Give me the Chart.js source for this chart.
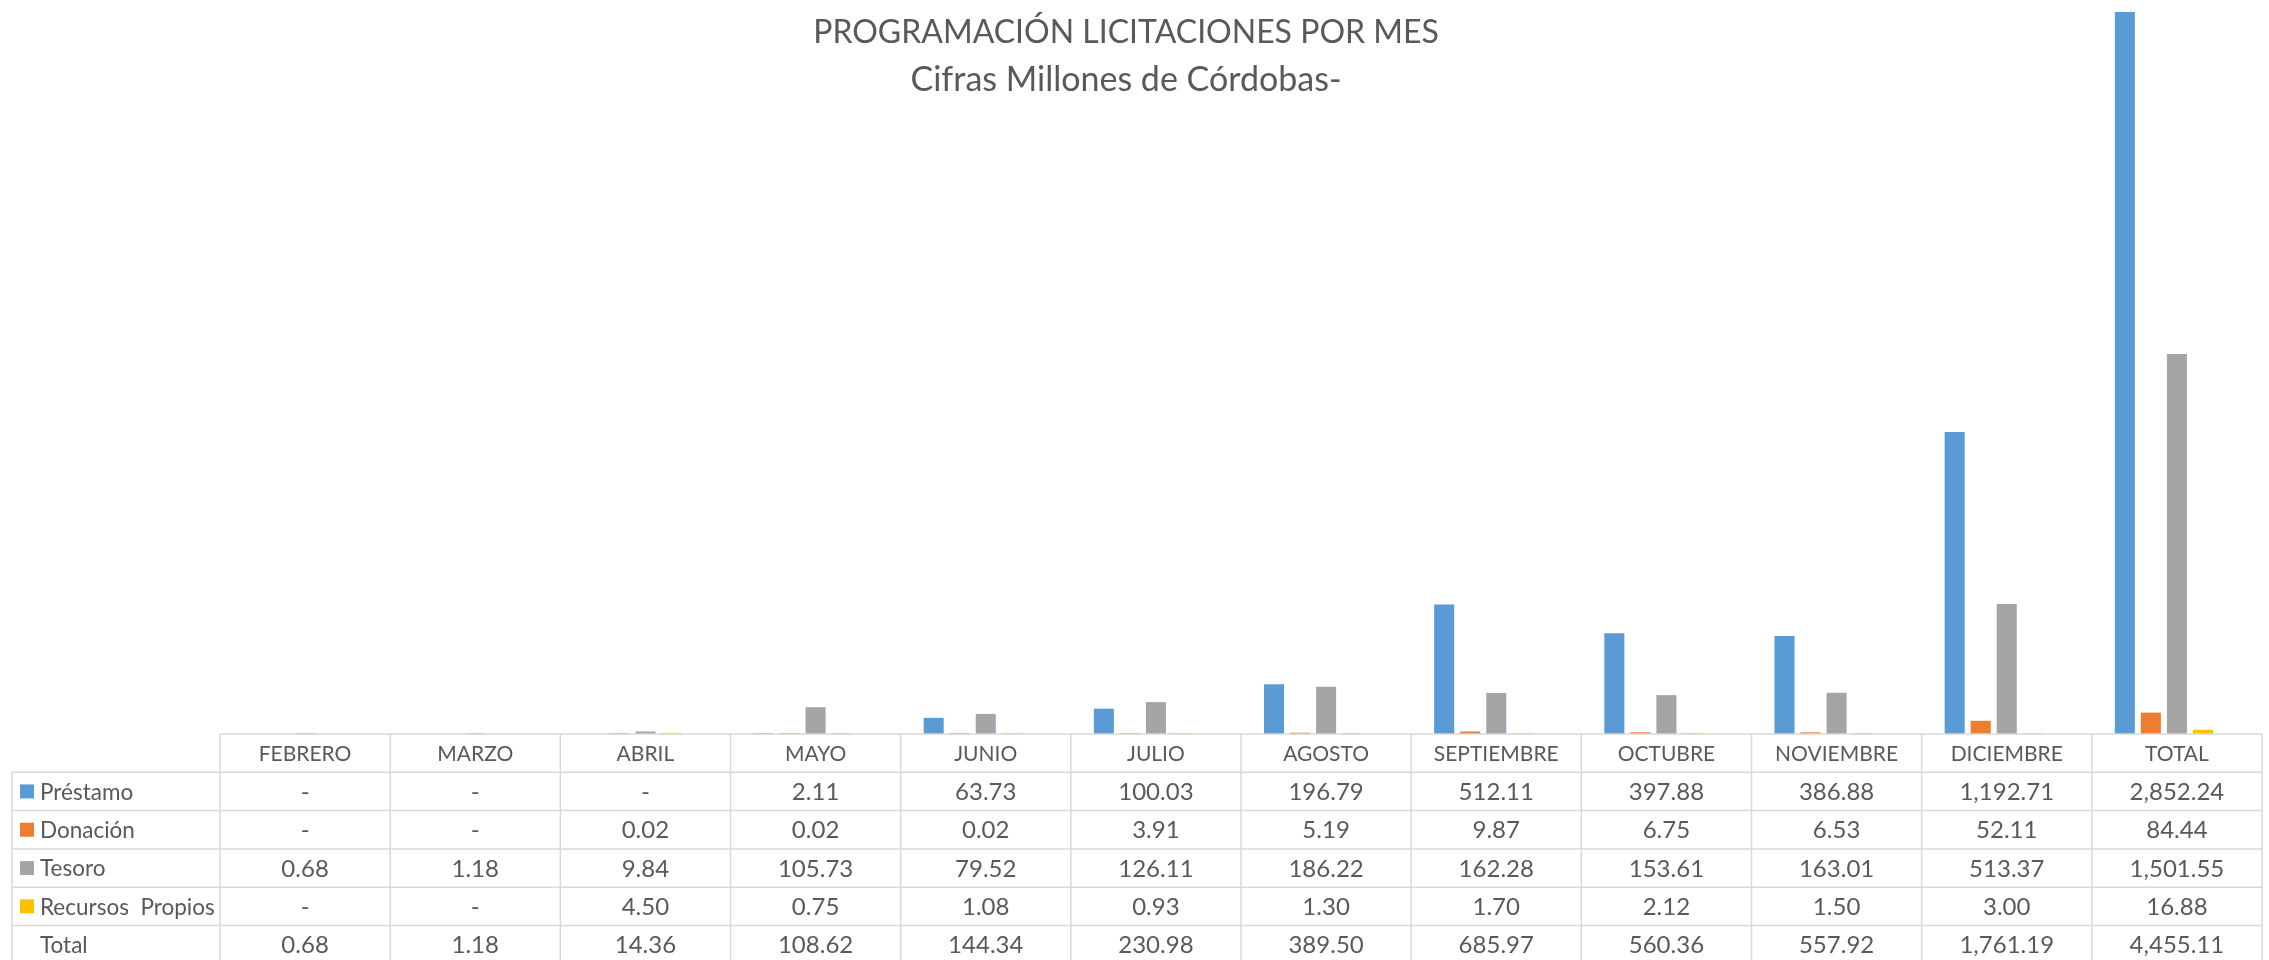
<!DOCTYPE html>
<html lang="es">
<head>
<meta charset="utf-8">
<title>Programación licitaciones por mes</title>
<script src="https://cdn.jsdelivr.net/npm/chart.js@4"></script>
<style>
    body { margin: 0; background: #ffffff; }
    canvas { display: block; }
</style>
</head>
<body>
<canvas id="grafico" width="2269" height="960"></canvas>
<script>
// Datos
const meses = ['FEBRERO', 'MARZO', 'ABRIL', 'MAYO', 'JUNIO', 'JULIO', 'AGOSTO', 'SEPTIEMBRE', 'OCTUBRE', 'NOVIEMBRE', 'DICIEMBRE', 'TOTAL'];
const prestamo = [null, null, null, 2.11, 63.73, 100.03, 196.79, 512.11, 397.88, 386.88, 1192.71, 2852.24];
const donacion = [null, null, 0.02, 0.02, 0.02, 3.91, 5.19, 9.87, 6.75, 6.53, 52.11, 84.44];
const tesoro = [0.68, 1.18, 9.84, 105.73, 79.52, 126.11, 186.22, 162.28, 153.61, 163.01, 513.37, 1501.55];
const recursosPropios = [null, null, 4.50, 0.75, 1.08, 0.93, 1.30, 1.70, 2.12, 1.50, 3.00, 16.88];
const total = [0.68, 1.18, 14.36, 108.62, 144.34, 230.98, 389.50, 685.97, 560.36, 557.92, 1761.19, 4455.11];

const titulo = 'PROGRAMACIÓN LICITACIONES POR MES';
const subtitulo = 'Cifras Millones de Córdobas-';

const colorTexto = '#595959';
const colorLinea = '#d9d9d9';
const fuente = 'Lato, "Open Sans", sans-serif';

function formato(v) {
    if (v === null) return '-';
    return v.toLocaleString('en-US', { minimumFractionDigits: 2, maximumFractionDigits: 2 });
}

// Fondo blanco
const fondo = {
    id: 'fondo',
    beforeDraw(chart) {
        const ctx = chart.ctx;
        ctx.save();
        ctx.fillStyle = '#ffffff';
        ctx.fillRect(0, 0, chart.width, chart.height);
        ctx.restore();
    }
};

// Título y tabla de datos debajo del gráfico
const tablaDatos = {
    id: 'tablaDatos',
    afterDraw(chart) {
        const ctx = chart.ctx;
        const area = chart.chartArea;
        const x = chart.scales.x;
        const ancho = (area.right - area.left) / meses.length;
        const alto = 38.3;
        const arriba = area.bottom;
        const izq = 12;

        ctx.save();

        // Título
        ctx.fillStyle = colorTexto;
        ctx.textAlign = 'center';
        ctx.textBaseline = 'middle';
        ctx.font = '32px ' + fuente;
        ctx.fillText(titulo, 1126, 33);
        ctx.font = '34px ' + fuente;
        ctx.fillText(subtitulo, 1126, 80);

        // Líneas de la tabla
        ctx.strokeStyle = colorLinea;
        ctx.lineWidth = 1.5;
        ctx.beginPath();
        ctx.moveTo(area.left, arriba);
        ctx.lineTo(area.right, arriba);
        for (let k = 1; k <= 6; k++) {
            ctx.moveTo(izq, arriba + k * alto);
            ctx.lineTo(area.right, arriba + k * alto);
        }
        for (let i = 0; i <= meses.length; i++) {
            ctx.moveTo(area.left + i * ancho, arriba);
            ctx.lineTo(area.left + i * ancho, chart.height);
        }
        ctx.moveTo(izq, arriba + alto);
        ctx.lineTo(izq, chart.height);
        ctx.stroke();

        // Encabezados
        ctx.font = '21px ' + fuente;
        ctx.fillStyle = colorTexto;
        meses.forEach((m, i) => {
            ctx.fillText(m, x.getPixelForValue(i), arriba + alto / 2 + 1);
        });

        // Filas
        const filas = chart.data.datasets;
        filas.forEach((ds, f) => {
            const yc = arriba + alto * (f + 1) + alto / 2 + 1;
            ctx.textAlign = 'center';
            ctx.font = '24px ' + fuente;
            ds.data.forEach((v, i) => {
                ctx.fillText(formato(v), x.getPixelForValue(i), yc);
            });
            if (ds.mostrarClave) {
                ctx.fillStyle = ds.backgroundColor;
                ctx.fillRect(20, yc - 8, 14, 14);
                ctx.fillStyle = colorTexto;
            }
            ctx.textAlign = 'left';
            ctx.font = '22.5px ' + fuente;
            ctx.fillText(ds.label, 40, yc);
        });

        ctx.restore();
    }
};

new Chart(document.getElementById('grafico'), {
    type: 'bar',
    data: {
        labels: meses,
        datasets: [
            { label: 'Préstamo', data: prestamo, backgroundColor: '#5b9bd5', mostrarClave: true },
            { label: 'Donación', data: donacion, backgroundColor: '#ed7d31', mostrarClave: true },
            { label: 'Tesoro', data: tesoro, backgroundColor: '#a5a5a5', mostrarClave: true },
            { label: 'Recursos  Propios', data: recursosPropios, backgroundColor: '#ffc000', mostrarClave: true },
            // Total: solo en la tabla, sin relleno
            { label: 'Total', data: total, backgroundColor: 'rgba(0,0,0,0)', mostrarClave: false }
        ]
    },
    options: {
        responsive: false,
        animation: false,
        categoryPercentage: 0.765,
        barPercentage: 0.77,
        minBarLength: 1,
        layout: { padding: { left: 220, right: 7, top: 0, bottom: 226 } },
        scales: {
            x: { display: false },
            y: { display: false, min: 0, max: 2900 }
        },
        plugins: {
            legend: { display: false },
            tooltip: { enabled: false }
        }
    },
    plugins: [fondo, tablaDatos]
});
</script>
</body>
</html>
